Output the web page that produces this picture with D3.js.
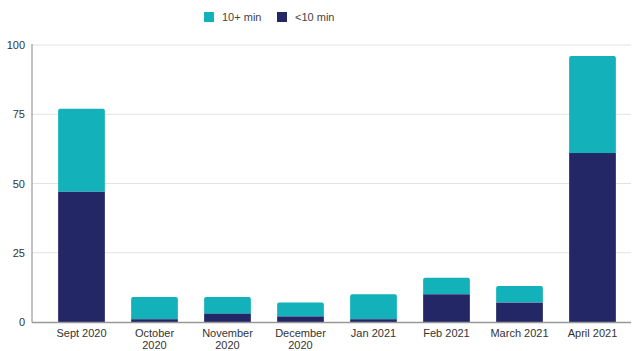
<!DOCTYPE html>
<html><head><meta charset="utf-8">
<script src="https://cdn.jsdelivr.net/npm/d3@7"></script>
<style>body{margin:0;background:#fff}svg{display:block;font-family:"Liberation Sans",Arial,sans-serif}</style>
</head><body><svg id="c" width="637" height="351"></svg>
<script>
const categories = ["Sept 2020","October 2020","November 2020","December 2020","Jan 2021","Feb 2021","March 2021","April 2021"];
const under10 = [47,1,3,2,1,10,7,61];
const over10 = [30,8,6,5,9,6,6,35];
const yTicks = [0,25,50,75,100];
const seriesNames = ["10+ min","<10 min"];
const colors = {"10+ min":"#13b1b9","<10 min":"#232765"};

const svg = d3.select("#c");
const x = d3.scaleBand().domain(categories).range([45,629]).paddingInner(0.36).paddingOuter(0.18);
const y = d3.scaleLinear().domain([0,100]).range([322,45]);

// gridlines
svg.append("g").selectAll("line").data(yTicks.filter(d=>d>0)).join("line")
  .attr("x1",32).attr("x2",631).attr("y1",d=>y(d)).attr("y2",d=>y(d))
  .attr("stroke","#e2e2e2").attr("stroke-width",1);

// y axis labels
svg.append("g").selectAll("text").data(yTicks).join("text")
  .attr("x",25).attr("y",d=>y(d)+4).attr("text-anchor","end")
  .attr("font-size",11).attr("fill","#333").text(d=>d);

// bars
const data = categories.map((c,i)=>({c, lo:under10[i], hi:over10[i]}));
const g = svg.append("g");
data.forEach(d=>{
  const x0 = x(d.c), w = x.bandwidth();
  const top = y(d.lo+d.hi), mid = y(d.lo), base = y(0);
  const r = 2;
  // top segment with rounded top corners
  g.append("path").attr("fill",colors["10+ min"])
    .attr("d",`M${x0},${mid}V${top+r}Q${x0},${top} ${x0+r},${top}H${x0+w-r}Q${x0+w},${top} ${x0+w},${top+r}V${mid}Z`);
  g.append("rect").attr("x",x0).attr("y",mid).attr("width",w).attr("height",base-mid).attr("fill",colors["<10 min"]);
});

// axes lines
svg.append("line").attr("x1",32).attr("x2",32).attr("y1",44).attr("y2",322.5).attr("stroke","#999").attr("stroke-width",1.2);
svg.append("line").attr("x1",32).attr("x2",631).attr("y1",322.5).attr("y2",322.5).attr("stroke","#999").attr("stroke-width",1.5);

// x labels
const xl = svg.append("g");
categories.forEach(c=>{
  const cx = x(c)+x.bandwidth()/2;
  const t = xl.append("text").attr("text-anchor","middle").attr("font-size",11).attr("fill","#333");
  const parts = c.length > 10 ? c.split(" ") : [c];
  parts.forEach((p,i)=>t.append("tspan").attr("x",cx).attr("y",337+i*12).text(p));
});

// legend
const leg = svg.append("g");
const legX = [204,277];
seriesNames.forEach((s,i)=>{
  leg.append("rect").attr("x",legX[i]).attr("y",12).attr("width",10).attr("height",10).attr("fill",colors[s]);
  leg.append("text").attr("x",legX[i]+18).attr("y",21).attr("font-size",11).attr("fill","#444").text(s);
});
</script></body></html>
